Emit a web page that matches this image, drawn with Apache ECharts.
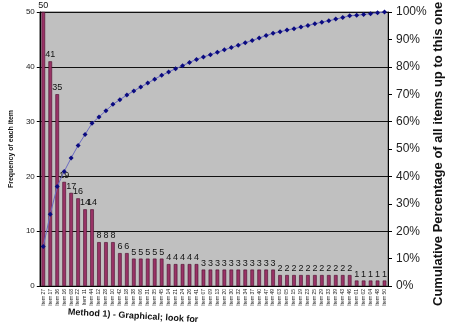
<!DOCTYPE html>
<html>
<head>
<meta charset="utf-8">
<script src="https://cdn.jsdelivr.net/npm/echarts@6/dist/echarts.min.js"></script>
<style>
  html, body { margin: 0; padding: 0; background: #ffffff; }
  #chart { width: 450px; height: 328px; }
</style>
</head>
<body>
<div id="chart"></div>
<script>
var categories = [
  "Item 27","Item 17","Item 36","Item 16","Item 08","Item 22","Item 11","Item 44",
  "Item 12","Item 28","Item 10",
  "Item 42","Item 18",
  "Item 38","Item 06","Item 31","Item 35","Item 45",
  "Item 14","Item 21","Item 24","Item 26","Item 41",
  "Item 07","Item 09","Item 13","Item 20","Item 30","Item 32","Item 34","Item 37","Item 40","Item 47","Item 49",
  "Item 03","Item 05","Item 15","Item 19","Item 23","Item 25","Item 29","Item 33","Item 39","Item 43","Item 46",
  "Item 01","Item 02","Item 04","Item 48","Item 50"
];
var frequency = [
  50,41,35,19,17,16,14,14,
  8,8,8,
  6,6,
  5,5,5,5,5,
  4,4,4,4,4,
  3,3,3,3,3,3,3,3,3,3,3,
  2,2,2,2,2,2,2,2,2,2,2,
  1,1,1,1,1
];
var cumulativePct = [
  14.4,26.2,36.3,41.8,46.7,51.3,55.3,59.4,
  61.7,64.0,66.3,
  68.0,69.7,
  71.2,72.6,74.1,75.5,76.9,
  78.1,79.3,80.4,81.6,82.7,
  83.6,84.4,85.3,86.2,87.0,87.9,88.8,89.6,90.5,91.4,92.2,
  92.8,93.4,93.9,94.5,95.1,95.7,96.3,96.8,97.4,98.0,98.6,
  98.8,99.1,99.4,99.7,100
];
var leftTicks = { min: 0, max: 50, interval: 10 };
var rightTicks = { min: 0, max: 100, interval: 10 };

var chart = echarts.init(document.getElementById('chart'), null, { renderer: 'canvas' });
chart.setOption({
  backgroundColor: '#ffffff',
  animation: false,
  grid: {
    left: 28, right: 62, top: 12, bottom: 42,
    show: true, backgroundColor: '#c0c0c0', borderColor: '#666', borderWidth: 1
  },
  xAxis: {
    type: 'category',
    data: categories,
    axisLine: { lineStyle: { color: '#000', width: 1 } },
    axisTick: { show: false },
    axisLabel: { interval: 0, rotate: 90, fontSize: 5, color: '#222', fontFamily: 'Arial', margin: 3 }
  },
  yAxis: [
    {
      type: 'value', min: leftTicks.min, max: leftTicks.max, interval: leftTicks.interval,
      name: 'Frequency of each item', nameLocation: 'middle', nameRotate: 90, nameGap: 18,
      nameTextStyle: { fontSize: 7, fontWeight: 'bold', color: '#111', fontFamily: 'Arial' },
      axisLine: { show: true, lineStyle: { color: '#000' } },
      axisTick: { show: true, length: 3, lineStyle: { color: '#000' } },
      axisLabel: { fontSize: 8, color: '#222', fontFamily: 'Arial', margin: 5 },
      splitLine: { show: true, lineStyle: { color: '#111', width: 1 } }
    },
    {
      type: 'value', min: rightTicks.min, max: rightTicks.max, interval: rightTicks.interval,
      position: 'right',
      axisLine: { show: true, lineStyle: { color: '#000' } },
      axisTick: { show: true, length: 4, inside: false, lineStyle: { color: '#000' } },
      axisLabel: { fontSize: 12, color: '#222', fontFamily: 'Arial', margin: 8, formatter: '{value}%' },
      splitLine: { show: false }
    }
  ],
  series: [
    {
      type: 'bar',
      data: frequency,
      barWidth: '52%',
      itemStyle: { color: '#993366', borderColor: '#4a0c2c', borderWidth: 0.6 },
      label: { show: true, position: 'top', fontSize: 9, color: '#111', fontFamily: 'Arial', distance: 2 }
    },
    {
      type: 'line',
      yAxisIndex: 1,
      data: cumulativePct,
      symbol: 'diamond',
      symbolSize: 5,
      itemStyle: { color: '#0a0a80' },
      lineStyle: { color: '#6a6ac0', width: 1 },
      z: 5
    }
  ],
  graphic: [
    {
      type: 'text', x: 438, y: 306, rotation: Math.PI / 2,
      style: { text: 'Cumulative Percentage of all items up to this one', fontSize: 13, fontWeight: 'bold',
               fill: '#111', fontFamily: 'Arial', textAlign: 'left', textVerticalAlign: 'middle' }
    },
    {
      type: 'text', x: 68, y: 312, rotation: -0.06,
      style: { text: 'Method 1) - Graphical; look for', fontSize: 9, fontWeight: 'bold',
               fill: '#111', fontFamily: 'Arial', textAlign: 'left', textVerticalAlign: 'middle' }
    }
  ]
});
</script>
</body>
</html>
